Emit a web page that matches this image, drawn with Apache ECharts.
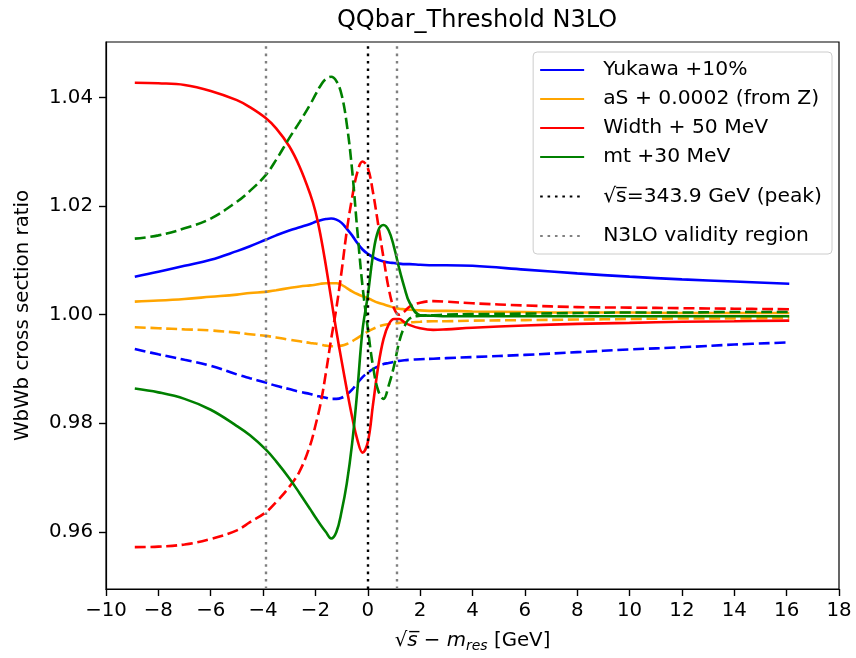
<!DOCTYPE html>
<html>
<head>
<meta charset="utf-8">
<script src="https://cdn.jsdelivr.net/npm/echarts@6/dist/echarts.min.js"></script>
<style>
  html, body { margin: 0; padding: 0; background: #fff; }
  #chart { width: 856px; height: 658px; }
</style>
</head>
<body>
<div id="chart"></div>
<script>
// sqrt(s) - m_res in GeV
const xValues = [-8.9, -8, -7, -6, -5, -4.5, -3.9, -3.5, -3, -2.6,
  -2.2, -2.0, -1.8, -1.6, -1.4, -1.2, -1.0, -0.8, -0.6, -0.4,
  -0.2, 0, 0.2, 0.4, 0.6, 0.8, 1.0, 1.2, 1.4, 1.6,
  2, 2.5, 3, 4, 6, 8, 10, 12, 14, 16.1]

// cross section ratios (solid = up variation, dashed = down variation)
const yukawaUp = [1.0070, 1.0079, 1.0090, 1.0101, 1.0117, 1.0126, 1.0138, 1.0146, 1.0155, 1.0161,
  1.0167, 1.0171, 1.0174, 1.0176, 1.0177, 1.0175, 1.0169, 1.0158, 1.0146, 1.0132,
  1.0120, 1.0112, 1.0106, 1.0101, 1.0098, 1.0096, 1.0095, 1.0094, 1.0093, 1.0093,
  1.0092, 1.0091, 1.0091, 1.0090, 1.0083, 1.0076, 1.0070, 1.0065, 1.0061, 1.0057]
const yukawaDown = [0.9937, 0.9927, 0.9917, 0.9906, 0.9890, 0.9883, 0.9875, 0.9869, 0.9863, 0.9858,
  0.9854, 0.9851, 0.9849, 0.9847, 0.9845, 0.9845, 0.9847, 0.9853, 0.9862, 0.9874,
  0.9885, 0.9893, 0.9900, 0.9905, 0.9909, 0.9911, 0.9913, 0.9915, 0.9916, 0.9917,
  0.9918, 0.9919, 0.9920, 0.9922, 0.9926, 0.9931, 0.9936, 0.9940, 0.9945, 0.9949]
const alphaSUp = [1.0024, 1.0026, 1.0029, 1.0033, 1.0037, 1.0040, 1.0042, 1.0045, 1.0049, 1.0052,
  1.0054, 1.0055, 1.0057, 1.0058, 1.0058, 1.0058, 1.0055, 1.0049, 1.0043, 1.0038,
  1.0034, 1.0031, 1.0026, 1.0022, 1.0019, 1.0016, 1.0013, 1.0011, 1.0010, 1.0009,
  1.0008, 1.0007, 1.0007, 1.0006, 1.0005, 1.0004, 1.0004, 1.0003, 1.0003, 1.0003]
const alphaSDown = [0.9977, 0.9975, 0.9973, 0.9971, 0.9967, 0.9964, 0.9961, 0.9958, 0.9954, 0.9951,
  0.9948, 0.9947, 0.9945, 0.9943, 0.9942, 0.9942, 0.9943, 0.9946, 0.9951, 0.9957,
  0.9963, 0.9969, 0.9974, 0.9978, 0.9981, 0.9983, 0.9984, 0.9985, 0.9986, 0.9986,
  0.9987, 0.9988, 0.9988, 0.9989, 0.9990, 0.9991, 0.9992, 0.9993, 0.9993, 0.9994]
const widthUp = [1.0427, 1.0426, 1.0423, 1.0412, 1.0395, 1.0382, 1.0362, 1.0343, 1.0310, 1.0272,
  1.0222, 1.0190, 1.0145, 1.0090, 1.0030, 0.9970, 0.9915, 0.9862, 0.9812, 0.9770,
  0.9746, 0.9765, 0.9835, 0.9905, 0.9955, 0.9982, 0.9992, 0.9992, 0.9986, 0.9981,
  0.9975, 0.9972, 0.9973, 0.9976, 0.9980, 0.9983, 0.9985, 0.9987, 0.9988, 0.9989]
const widthDown = [0.9572, 0.9573, 0.9577, 0.9587, 0.9603, 0.9618, 0.9636, 0.9655, 0.9683, 0.9712,
  0.9760, 0.9796, 0.9837, 0.9893, 0.9955, 1.0012, 1.0080, 1.0155, 1.0215, 1.0262,
  1.0282, 1.0270, 1.0225, 1.0165, 1.0105, 1.0048, 1.0012, 1.0000, 1.0006, 1.0015,
  1.0022, 1.0025, 1.0024, 1.0021, 1.0017, 1.0014, 1.0013, 1.0012, 1.0011, 1.0010]
const mtUp = [0.9864, 0.9857, 0.9845, 0.9825, 0.9795, 0.9778, 0.9752, 0.9730, 0.9699, 0.9671,
  0.9642, 0.9627, 0.9613, 0.9600, 0.9588, 0.9600, 0.9638, 0.9690, 0.9762, 0.9860,
  0.9972, 1.0035, 1.0110, 1.0155, 1.0165, 1.0155, 1.0125, 1.0085, 1.0050, 1.0022,
  0.9999, 0.9998, 0.9997, 0.9997, 0.9997, 0.9997, 0.9997, 0.9997, 0.9997, 0.9997]
const mtDown = [1.0140, 1.0146, 1.0159, 1.0177, 1.0208, 1.0228, 1.0257, 1.0285, 1.0325, 1.0355,
  1.0387, 1.0405, 1.0422, 1.0434, 1.0438, 1.0430, 1.0405, 1.0350, 1.0267, 1.0155,
  1.0052, 0.9975, 0.9905, 0.9860, 0.9845, 0.9870, 0.9905, 0.9950, 0.9978, 0.9993,
  0.9998, 0.9999, 1.0000, 1.0001, 1.0002, 1.0003, 1.0004, 1.0004, 1.0005, 1.0005]

// vertical reference lines
const peakX = [0]
const validityX = [-3.9, 1.1]

const yTicks = [0.96, 0.98, 1.00, 1.02, 1.04]

const FONT = 'DejaVu Sans'
const PEAK_LABEL = '√s̅=343.9 GeV (peak)'
const DASH = [11, 4.7]
const DOT = [2.6, 4.8]

const pairs = (ys) => xValues.map((x, i) => [x, ys[i]])

// 实线/虚线曲线
const curve = (name, ys, color, dashed) => ({
  name,
  type: 'line',
  data: pairs(ys),
  symbol: 'none',
  smooth: 0.4,
  itemStyle: { color },
  lineStyle: { color, width: 2.6, type: dashed ? DASH : 'solid' },
  emphasis: { disabled: true },
})

// 竖直参考线
const vline = (name, xs, color) => ({
  name,
  type: 'line',
  data: [],
  symbol: 'none',
  itemStyle: { color },
  lineStyle: { color, width: 2.4, type: DOT },
  markLine: {
    silent: true,
    symbol: 'none',
    label: { show: false },
    lineStyle: { color, width: 2.4, type: DOT },
    data: xs.map((x) => ({ xAxis: x })),
  },
})

const chart = echarts.init(document.getElementById('chart'))

const option = {
  animation: false,
  title: {
    text: 'QQbar_Threshold N3LO',
    left: 472,
    top: 4,
    textAlign: 'center',
    textStyle: { fontFamily: FONT, fontSize: 24, fontWeight: 'normal', color: '#000' },
  },
  grid: { left: 106, right: 17, top: 42, bottom: 65, show: true, borderColor: '#000', borderWidth: 1.2 },
  legend: {
    data: [
      'Yukawa +10%',
      'aS + 0.0002 (from Z)',
      'Width + 50 MeV',
      'mt +30 MeV',
      { name: PEAK_LABEL, textStyle: { lineHeight: 41 } },
      'N3LO validity region',
    ],
    orient: 'vertical',
    right: 24,
    top: 52,
    itemWidth: 44,
    itemHeight: 14,
    itemGap: 9,
    padding: [8, 10, 8, 6],
    borderColor: '#cccccc',
    borderWidth: 1,
    borderRadius: 4,
    backgroundColor: 'rgba(255,255,255,0.8)',
    selectedMode: false,
    itemStyle: { opacity: 0 },
    textStyle: {
      fontFamily: FONT,
      fontSize: 20.3,
      color: '#000',
      padding: [0, 0, 0, 14],
    },
  },
  xAxis: {
    type: 'value',
    min: -10,
    max: 18,
    interval: 2,
    name: '{n|√}{i|s̅}{n| − }{i|m}{sub|res}{n| [GeV]}',
    nameLocation: 'middle',
    nameGap: 40,
    nameTextStyle: {
      rich: {
        n: { fontFamily: FONT, fontSize: 19.8, color: '#000' },
        i: { fontFamily: FONT, fontSize: 19.8, fontStyle: 'italic', color: '#000' },
        sub: { fontFamily: FONT, fontSize: 14, fontStyle: 'italic', color: '#000', padding: [10, 0, 0, 0] },
      },
    },
    axisLine: { onZero: false, lineStyle: { color: '#000', width: 1.2 } },
    axisTick: { length: 7, lineStyle: { color: '#000', width: 1.4 } },
    axisLabel: {
      margin: 12,
      fontFamily: FONT,
      fontSize: 19.8,
      color: '#000',
      formatter: (v) => (v < 0 ? '\u2212' + Math.abs(v) : String(v)),
    },
    splitLine: { show: false },
  },
  yAxis: {
    type: 'value',
    min: 0.9495,
    max: 1.0502,
    name: 'WbWb cross section ratio',
    nameLocation: 'middle',
    nameRotate: 90,
    nameGap: 73,
    nameTextStyle: { fontFamily: FONT, fontSize: 19.8, color: '#000' },
    axisLine: { show: true, onZero: false, lineStyle: { color: '#000', width: 1.2 } },
    axisTick: { length: 7, customValues: yTicks, lineStyle: { color: '#000', width: 1.4 } },
    axisLabel: {
      margin: 13,
      customValues: yTicks,
      fontFamily: FONT,
      fontSize: 19.8,
      color: '#000',
      formatter: (v) => v.toFixed(2),
    },
    splitLine: { show: false },
  },
  series: [
    curve('Yukawa +10%', yukawaUp, '#0000ff', false),
    curve('Yukawa -10%', yukawaDown, '#0000ff', true),
    curve('aS + 0.0002 (from Z)', alphaSUp, '#ffa500', false),
    curve('aS - 0.0002 (from Z)', alphaSDown, '#ffa500', true),
    curve('Width + 50 MeV', widthUp, '#ff0000', false),
    curve('Width - 50 MeV', widthDown, '#ff0000', true),
    curve('mt +30 MeV', mtUp, '#008000', false),
    curve('mt -30 MeV', mtDown, '#008000', true),
    vline(PEAK_LABEL, peakX, '#000000'),
    vline('N3LO validity region', validityX, '#808080'),
  ],
}

chart.setOption(option)
</script>
</body>
</html>
